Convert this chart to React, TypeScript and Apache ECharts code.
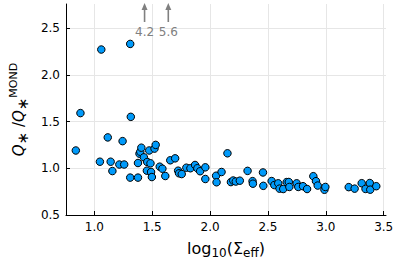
import React, { useEffect, useRef } from "react";
import * as echarts from "echarts";

// Scatter data: x = log10(Sigma_eff), y = Q*/Q*^MOND
const xValues = [
  0.84, 0.88, 1.06, 1.31, 1.048, 1.116, 1.141, 1.156, 1.216, 1.244,
  1.258, 1.31, 1.315, 1.377, 1.377, 1.39, 1.397, 1.406, 1.428, 1.454,
  1.457, 1.474, 1.485, 1.49, 1.497, 1.52, 1.53, 1.565, 1.588, 1.613,
  1.656, 1.698, 1.724, 1.732, 1.755, 1.795, 1.83, 1.87, 1.89, 1.914,
  1.959, 1.959, 2.052, 2.056, 2.099, 2.15, 2.18, 2.2, 2.222, 2.257,
  2.324, 2.367, 2.37, 2.457, 2.46, 2.532, 2.555, 2.589, 2.6, 2.632,
  2.662, 2.68, 2.685, 2.748, 2.762, 2.803, 2.838, 2.892, 2.915, 2.93,
  2.988, 2.996, 3.198, 3.249, 3.31, 3.343, 3.38, 3.384, 3.436,
];
const yValues = [
  1.19, 1.59, 2.27, 2.33, 1.07, 1.33, 1.07, 0.97, 1.04, 1.29,
  1.04, 0.9, 1.55, 1.056, 0.9, 1.156, 1.177, 1.22, 1.117, 0.974,
  1.067, 1.19, 1.053, 0.96, 0.906, 1.21, 1.25, 1.017, 0.995, 0.917,
  1.085, 1.106, 0.974, 0.946, 0.938, 1.006, 1.0, 1.035, 1.0, 0.968,
  1.01, 0.885, 0.92, 0.85, 0.96, 1.16, 0.852, 0.869, 0.858, 0.867,
  0.972, 0.862, 0.835, 0.955, 0.812, 0.863, 0.82, 0.839, 0.782, 0.778,
  0.852, 0.853, 0.8, 0.839, 0.8, 0.808, 0.778, 0.915, 0.862, 0.815,
  0.77, 0.8, 0.798, 0.782, 0.84, 0.779, 0.842, 0.771, 0.808,
];

// Off-scale points shown as arrows with their values
const outlierX = [1.434, 1.639];
const outlierY = [4.2, 5.6];

const xTicks = [1.0, 1.5, 2.0, 2.5, 3.0, 3.5];
const yTicks = [0.5, 1.0, 1.5, 2.0, 2.5];

const X_MIN = 0.755;
const X_MAX = 3.52;
const Y_MIN = 0.5;
const Y_MAX = 2.757;

const FONT = "DejaVu Sans";

export default function App() {
  const ref = useRef<HTMLDivElement>(null);

  useEffect(() => {
    if (!ref.current) return;
    const chart = echarts.init(ref.current, undefined, { renderer: "svg" });
    const points = xValues.map((x, i) => [x, yValues[i]]);
    const outliers = outlierX.map((x, i) => [x, outlierY[i]]);
    const axisLineStyle = { color: "#000", width: 1 };
    chart.setOption({
      animation: false,
      backgroundColor: "#fff",
      grid: { left: 62, top: 4, right: 13, bottom: 51, containLabel: false },
      xAxis: {
        type: "value",
        min: X_MIN,
        max: X_MAX,
        axisLine: { show: true, onZero: false, lineStyle: axisLineStyle },
        axisTick: { show: true, inside: true, length: 4, customValues: xTicks, lineStyle: axisLineStyle },
        axisLabel: {
          customValues: xTicks,
          formatter: (v: number) => v.toFixed(1),
          color: "#000",
          fontFamily: FONT,
          fontSize: 12,
          margin: 6,
        },
        splitLine: { show: true, lineStyle: { color: "#e6e6e6", width: 1 } },
        name: "{a|log}{s|10}{a|(Σ}{s|eff}{a|)}",
        nameLocation: "middle",
        nameGap: 23,
        nameTextStyle: {
          fontFamily: FONT,
          fontSize: 16,
          color: "#000",
          rich: {
            a: { fontFamily: FONT, fontSize: 16, color: "#000", lineHeight: 21 },
            s: { fontFamily: FONT, fontSize: 12, color: "#000", lineHeight: 13, verticalAlign: "bottom" },
          },
        },
      },
      yAxis: {
        type: "value",
        min: Y_MIN,
        max: Y_MAX,
        axisLine: { show: true, onZero: false, lineStyle: axisLineStyle },
        axisTick: { show: true, inside: true, length: 4, customValues: yTicks, lineStyle: axisLineStyle },
        axisLabel: {
          customValues: yTicks,
          formatter: (v: number) => v.toFixed(1),
          color: "#000",
          fontFamily: FONT,
          fontSize: 12,
          margin: 6,
        },
        splitLine: { show: true, lineStyle: { color: "#e6e6e6", width: 1 } },
        name: "{q|Q}{s|∗}{a| /}{q|Q}{s|∗}{p|MOND}",
        nameLocation: "middle",
        nameRotate: 90,
        nameGap: 34,
        nameTextStyle: {
          fontFamily: FONT,
          fontSize: 15,
          color: "#000",
          rich: {
            q: { fontFamily: FONT, fontSize: 15, fontStyle: "italic", color: "#000", lineHeight: 22 },
            a: { fontFamily: FONT, fontSize: 15, color: "#000", lineHeight: 22 },
            s: { fontFamily: FONT, fontSize: 15, color: "#000", lineHeight: 14, verticalAlign: "bottom" },
            p: { fontFamily: FONT, fontSize: 11, color: "#000", lineHeight: 12, verticalAlign: "top" },
          },
        },
      },
      series: [
        {
          type: "scatter",
          data: points,
          symbol: "circle",
          symbolSize: 7.5,
          itemStyle: { color: "#009AFA", borderColor: "#000", borderWidth: 1, opacity: 1 },
          silent: true,
        },
        {
          type: "custom",
          clip: false,
          silent: true,
          data: outliers,
          renderItem: (params: any, api: any) => {
            const x = api.coord([api.value(0), Y_MIN])[0];
            const top = params.coordSys.y;
            const gray = "#808080";
            return {
              type: "group",
              children: [
                {
                  type: "line",
                  shape: { x1: x, y1: top + 18, x2: x, y2: top + 4 },
                  style: { stroke: gray, lineWidth: 1.6 },
                },
                {
                  type: "polygon",
                  shape: { points: [[x, top - 1], [x - 3, top + 6], [x + 3, top + 6]] },
                  style: { fill: gray },
                },
                {
                  type: "text",
                  x: x,
                  y: top + 28,
                  style: {
                    text: api.value(1).toFixed(1),
                    fill: gray,
                    font: `12px "${FONT}"`,
                    align: "center",
                    verticalAlign: "middle",
                  },
                },
              ],
            };
          },
        },
      ],
    });
    return () => chart.dispose();
  }, []);

  return <div ref={ref} style={{ width: 399, height: 266, position: "absolute", left: 0, top: 0 }} />;
}
